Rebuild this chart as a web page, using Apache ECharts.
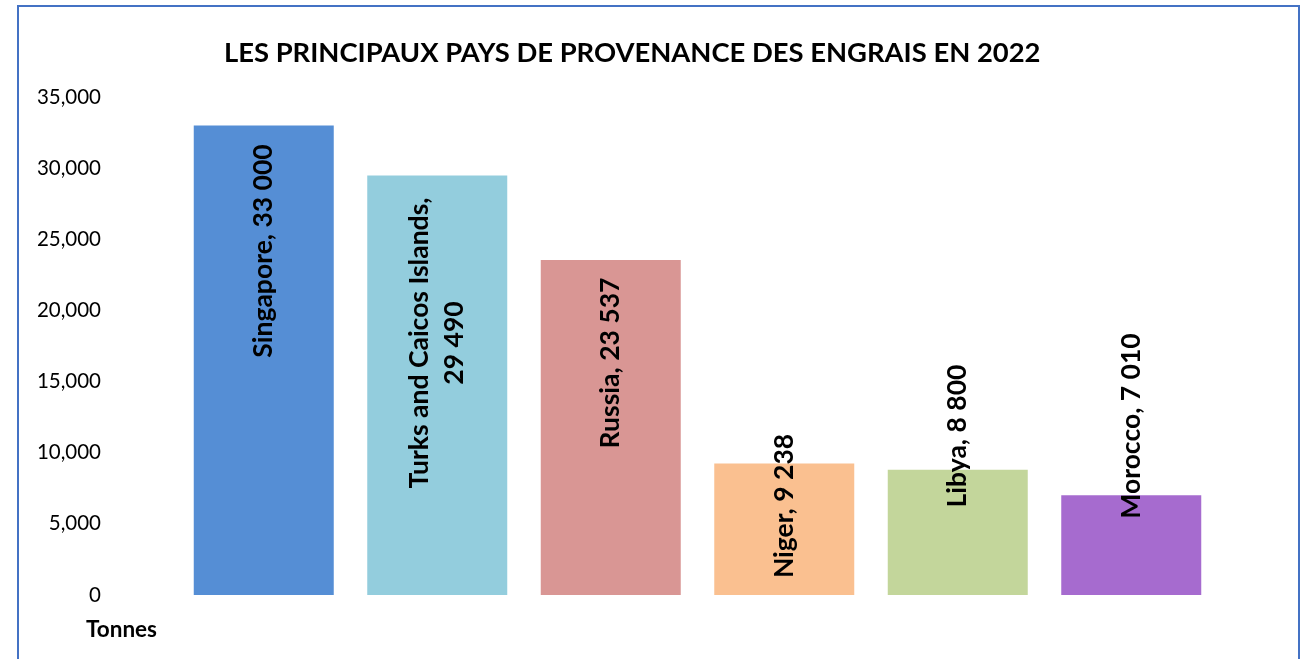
<!DOCTYPE html>
<html lang="fr">
<head>
    <meta charset="UTF-8">
    <title>Engrais 2022</title>
    <style type="text/css">
        *{
            margin: 0px;
            padding: 0px;
        }
        #chart{
            width: 1301px;
            height: 659px;
            background: #ffffff;
        }
    </style>
</head>
<body>
<div id="chart"></div>
<script src="https://cdn.jsdelivr.net/npm/echarts@6/dist/echarts.min.js"></script>
<script type="text/javascript">
  // data
  var countries = ['Singapore', 'Turks and Caicos Islands', 'Russia', 'Niger', 'Libya', 'Morocco'];
  var tonnes = [33000, 29490, 23537, 9238, 8800, 7010];
  var yTicks = [0, 5000, 10000, 15000, 20000, 25000, 30000, 35000];

  // styling
  var barColors = ['#558ED5', '#93CDDD', '#D99694', '#FAC090', '#C3D69B', '#A66BCF'];
  // distance from bar bottom to the centre of each rotated label (px)
  var labelDist = [344, 252, 232, 89, 159, 169];
  var labelFont = 'Lato';

  function fmtSpace(v) {
    return String(v).replace(/\B(?=(\d{3})+(?!\d))/g, ' ');
  }

  var barData = [];
  for (var i = 0; i < countries.length; i++) {
    var name = countries[i] === 'Turks and Caicos Islands' ? 'Turks and Caicos Islands,\n' : countries[i] + ', ';
    barData.push({
      value: tonnes[i],
      itemStyle: { color: barColors[i] },
      label: {
        show: true,
        position: 'insideBottom',
        distance: labelDist[i],
        rotate: 90,
        align: 'center',
        verticalAlign: 'middle',
        formatter: name + fmtSpace(tonnes[i]),
        fontFamily: labelFont,
        fontWeight: 'bold',
        fontSize: 26.5,
        lineHeight: 35,
        color: '#000'
      }
    });
  }

  var myChart = echarts.init(document.getElementById('chart'));

  myChart.setOption({
    animation: false,
    title: {
      text: 'LES PRINCIPAUX PAYS DE PROVENANCE DES ENGRAIS EN 2022',
      left: 219,
      top: 35,
      textStyle: {
        fontFamily: labelFont,
        fontWeight: 'bold',
        fontSize: 27.4,
        color: '#000'
      }
    },
    grid: {
      left: 177,
      right: 83,
      top: 97,
      bottom: 64
    },
    xAxis: {
      type: 'category',
      data: countries,
      axisLine: { show: false },
      axisTick: { show: false },
      axisLabel: { show: false }
    },
    yAxis: {
      type: 'value',
      min: yTicks[0],
      max: yTicks[yTicks.length - 1],
      interval: yTicks[1] - yTicks[0],
      splitLine: { show: false },
      axisLine: { show: false },
      axisTick: { show: false },
      axisLabel: {
        margin: 76,
        color: '#000',
        fontFamily: labelFont,
        fontSize: 20.5,
        formatter: function (v) { return v.toLocaleString('en-US'); }
      }
    },
    series: [
      {
        type: 'bar',
        barWidth: 140,
        data: barData
      }
    ],
    graphic: [
      {
        type: 'rect',
        shape: { x: 18, y: 6, width: 1281, height: 700 },
        style: { fill: 'none', stroke: '#4472C4', lineWidth: 2 },
        silent: true
      },
      {
        type: 'text',
        left: 86,
        top: 618,
        style: {
          text: 'Tonnes',
          fontFamily: labelFont,
          fontWeight: 'bold',
          fontSize: 22.5,
          fill: '#000'
        }
      }
    ]
  });
</script>
</body>
</html>
